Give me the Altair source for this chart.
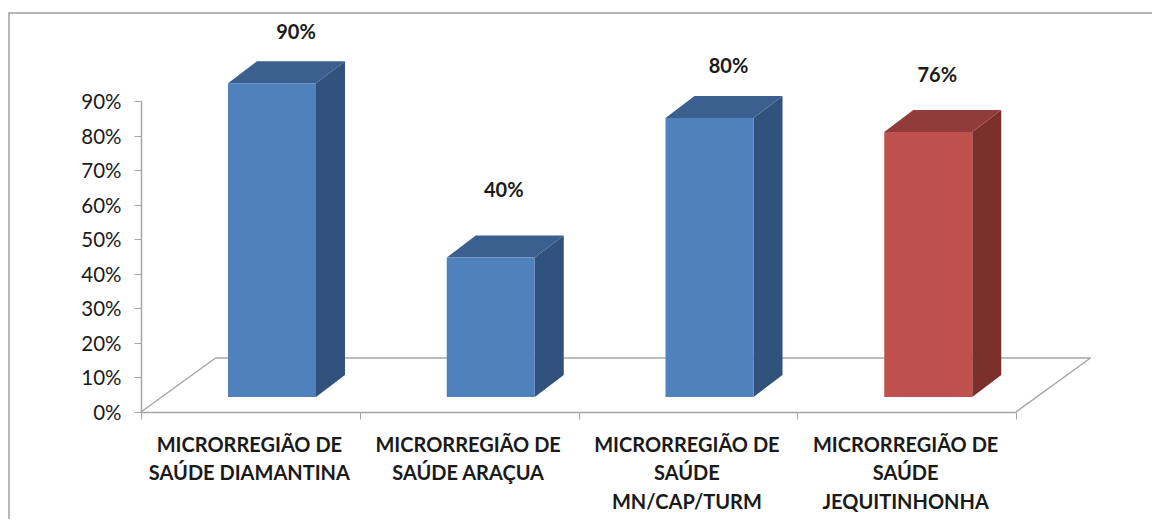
import altair as alt
import pandas as pd

categories = ["MICRORREGIÃO DE\nSAÚDE DIAMANTINA", "MICRORREGIÃO DE\nSAÚDE ARAÇUA",
              "MICRORREGIÃO DE\nSAÚDE\nMN/CAP/TURM", "MICRORREGIÃO DE\nSAÚDE\nJEQUITINHONHA"]
values = [90, 40, 80, 76]
value_labels = ["90%", "40%", "80%", "76%"]
y_ticks = [0, 10, 20, 30, 40, 50, 60, 70, 80, 90]

FRONT = ["#4f81bd", "#4f81bd", "#4f81bd", "#c0504d"]
TOP = ["#3b5f8e", "#3b5f8e", "#3b5f8e", "#913c3a"]
SIDE = ["#30527c", "#30527c", "#30527c", "#7c302e"]
LINE = "#a6a6a6"
TEXT = "#1a1a1a"
FONT = "Lato"

# layout, in chart units: x = category steps, y = percent
W, H = 875, 311
UX, UY = W / 4, H / 90
L_FRAC, B_W = 87 / UX, 88 / UX
DX, DY = 29 / UX, 22 / UY
BASE = 15 / UY
K = 1.009
FLOOR_DX, FLOOR_DY = 74.5 / UX, 54 / UY
LABEL_X = [68, 57, 63, 53]
LABEL_UP = [50.5, 66.5, 51.5, 56.5]

rows = []
for i, v in enumerate(values):
    l = i + L_FRAC
    r = l + B_W
    t = BASE + v * K
    rows.append(dict(i=i, l=l, r=r, b=BASE, t=t, front=FRONT[i], top=TOP[i], side=SIDE[i]))
bars = pd.DataFrame(rows)

side_rows, top_rows = [], []
for row in rows:
    for k in (0, 1):
        side_rows.append(dict(i=row["i"], x=row["r"] + k * DX, y=row["t"] + k * DY,
                              y2=row["b"] + k * DY, c=row["side"]))
        top_rows.append(dict(i=row["i"], y=row["t"] + k * DY, x=row["l"] + k * DX,
                             x2=row["r"] + k * DX, c=row["top"]))
side_df, top_df = pd.DataFrame(side_rows), pd.DataFrame(top_rows)

floor_df = pd.DataFrame([
    dict(g="back", o=0, x=FLOOR_DX, y=FLOOR_DY), dict(g="back", o=1, x=4 + FLOOR_DX, y=FLOOR_DY),
    dict(g="left", o=0, x=0, y=0), dict(g="left", o=1, x=FLOOR_DX, y=FLOOR_DY),
    dict(g="right", o=0, x=4, y=0), dict(g="right", o=1, x=4 + FLOOR_DX, y=FLOOR_DY),
])

labels_df = pd.DataFrame([
    dict(x=rows[i]["l"] + LABEL_X[i] / UX, y=rows[i]["t"] + LABEL_UP[i] / UY, t=value_labels[i])
    for i in range(4)
])
cats_df = pd.DataFrame(dict(x=[i + 0.5 for i in range(4)], t=categories))

xs = alt.Scale(domain=[0, 4], nice=False, zero=False)
ys = alt.Scale(domain=[0, 90], nice=False)
x_axis = alt.Axis(values=[0, 1, 2, 3, 4], labels=False, title=None, grid=False, domainColor=LINE,
                  tickColor=LINE, domainWidth=1.5, tickSize=7)
y_axis = alt.Axis(values=y_ticks, title=None, grid=False, domainColor=LINE, tickColor=LINE,
                  domainWidth=1.5, tickSize=7, labelExpr="datum.value + '%'", labelFont=FONT,
                  labelFontSize=20.5, labelColor=TEXT, labelPadding=13, labelOffset=1.5)
X = alt.X("x:Q", scale=xs, axis=x_axis)
Y = alt.Y("y:Q", scale=ys, axis=y_axis)

frame = alt.Chart(pd.DataFrame({"a": [0]})).mark_rect(
    fillOpacity=0, stroke="#a0a0a0", strokeWidth=1.5
).encode(x=alt.value(9 - 141), x2=alt.value(1300), y=alt.value(13 - 101), y2=alt.value(700))

floor = alt.Chart(floor_df).mark_line(color=LINE, strokeWidth=1.5).encode(
    x=X, y=Y, detail="g:N", order="o:Q")

front = alt.Chart(bars).mark_rect().encode(
    x=alt.X("l:Q", scale=xs, axis=x_axis), x2="r:Q",
    y=alt.Y("b:Q", scale=ys, axis=y_axis), y2="t:Q",
    fill=alt.Fill("front:N", scale=None))

side = alt.Chart(side_df).mark_area(orient="vertical").encode(
    x=X, y=Y, y2="y2:Q", detail="i:N", fill=alt.Fill("c:N", scale=None))

top = alt.Chart(top_df).mark_area(orient="horizontal").encode(
    x=X, x2="x2:Q", y=Y, detail="i:N", fill=alt.Fill("c:N", scale=None))

value_text = alt.Chart(labels_df).mark_text(
    font=FONT, fontSize=20, fontWeight="bold", color=TEXT
).encode(x=X, y=Y, text="t:N")

cat_text = alt.Chart(cats_df).mark_text(
    font=FONT, fontSize=20, fontWeight="bold", color=TEXT, lineBreak="\n", lineHeight=28.5,
    baseline="top", align="center", dx=-1
).encode(x=X, y=alt.value(435.5 - 101), text="t:N")

chart = alt.layer(frame, floor, side, top, front, value_text, cat_text).properties(
    width=W, height=H,
    autosize=alt.AutoSizeParams(type="none"),
    padding={"left": 133, "top": 93, "right": 1144 - 133 - W, "bottom": 511 - 93 - H},
    background="#ffffff",
).configure_view(stroke=None)

chart.save("out.html", embed_options={"renderer": "svg", "actions": False})
